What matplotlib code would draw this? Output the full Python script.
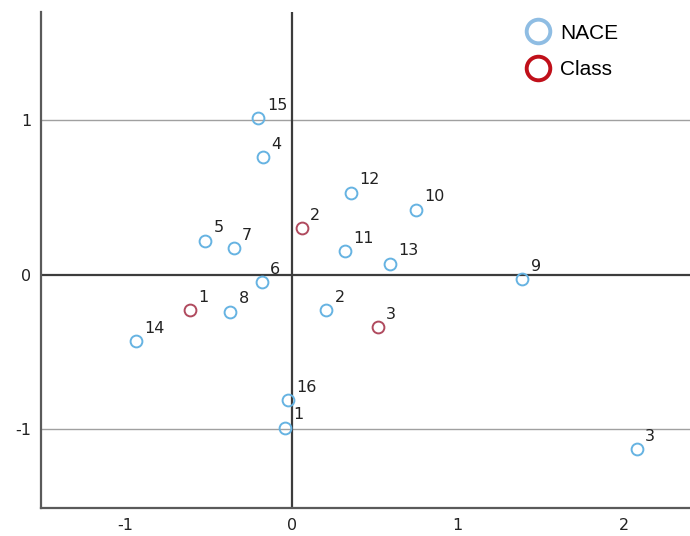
import matplotlib.pyplot as plt
from matplotlib.lines import Line2D

# row points (NACE categories)
nace_labels = ["1", "2", "3", "4", "5", "6", "7", "8", "9", "10", "11", "12", "13", "14", "15", "16"]
nace_x = [-0.04, 0.21, 2.08, -0.17, -0.52, -0.18, -0.35, -0.37, 1.39, 0.75, 0.32, 0.36, 0.59, -0.94, -0.20, -0.02]
nace_y = [-0.99, -0.23, -1.13, 0.76, 0.22, -0.05, 0.17, -0.24, -0.03, 0.42, 0.15, 0.53, 0.07, -0.43, 1.01, -0.81]

# column points (Class)
class_labels = ["1", "2", "3"]
class_x = [-0.61, 0.06, 0.52]
class_y = [-0.23, 0.30, -0.34]

nace_color = "#66b3e2"
class_color = "#b04a5e"

fig = plt.figure(figsize=(6.9, 5.36), dpi=100)
ax = fig.add_axes([0.0594, 0.052, 0.9406, 0.926])

ax.set_xlim(-1.51, 2.4)
ax.set_ylim(-1.51, 1.70)

for yv in (-1, 1):
    ax.axhline(yv, color="#a0a0a0", lw=1.0, zorder=1)
ax.axhline(0, color="#3c3c3c", lw=1.6, zorder=1)
ax.axvline(0, color="#3c3c3c", lw=1.6, zorder=1)

ax.plot(nace_x, nace_y, "o", ms=8.5, mfc="none", mec=nace_color, mew=1.4, zorder=3)
ax.plot(class_x, class_y, "o", ms=8.5, mfc="none", mec=class_color, mew=1.4, zorder=3)

for lab, x, y in zip(nace_labels + class_labels, nace_x + class_x, nace_y + class_y):
    ax.annotate(lab, (x, y), xytext=(6, 6), textcoords="offset points",
                ha="left", va="baseline", fontsize=11.5, color="#222222")

ax.spines["top"].set_visible(False)
ax.spines["right"].set_visible(False)
for s in ("left", "bottom"):
    ax.spines[s].set_color("#5a5a5a")
    ax.spines[s].set_linewidth(1.6)

ax.set_xticks([-1, 0, 1, 2])
ax.set_xticklabels(["-1", "0", "1", "2"])
ax.set_yticks([-1, 0, 1])
ax.set_yticklabels(["-1", "0", "1"])
ax.tick_params(length=0, labelsize=11.5, colors="#222222", pad=7)

handles = [
    Line2D([], [], ls="none", marker="o", ms=17, mfc="none", mec="#8fbde3", mew=2.8, label="NACE"),
    Line2D([], [], ls="none", marker="o", ms=17, mfc="none", mec="#c0101a", mew=2.8, label="Class"),
]
leg = ax.legend(handles=handles, loc="upper left", bbox_to_anchor=(0.731, 0.993), frameon=False,
                prop={"family": "Liberation Sans", "size": 15}, handlelength=1.4,
                handletextpad=0.35, labelspacing=0.85, borderaxespad=0)

fig.savefig("out.png", dpi=100)
